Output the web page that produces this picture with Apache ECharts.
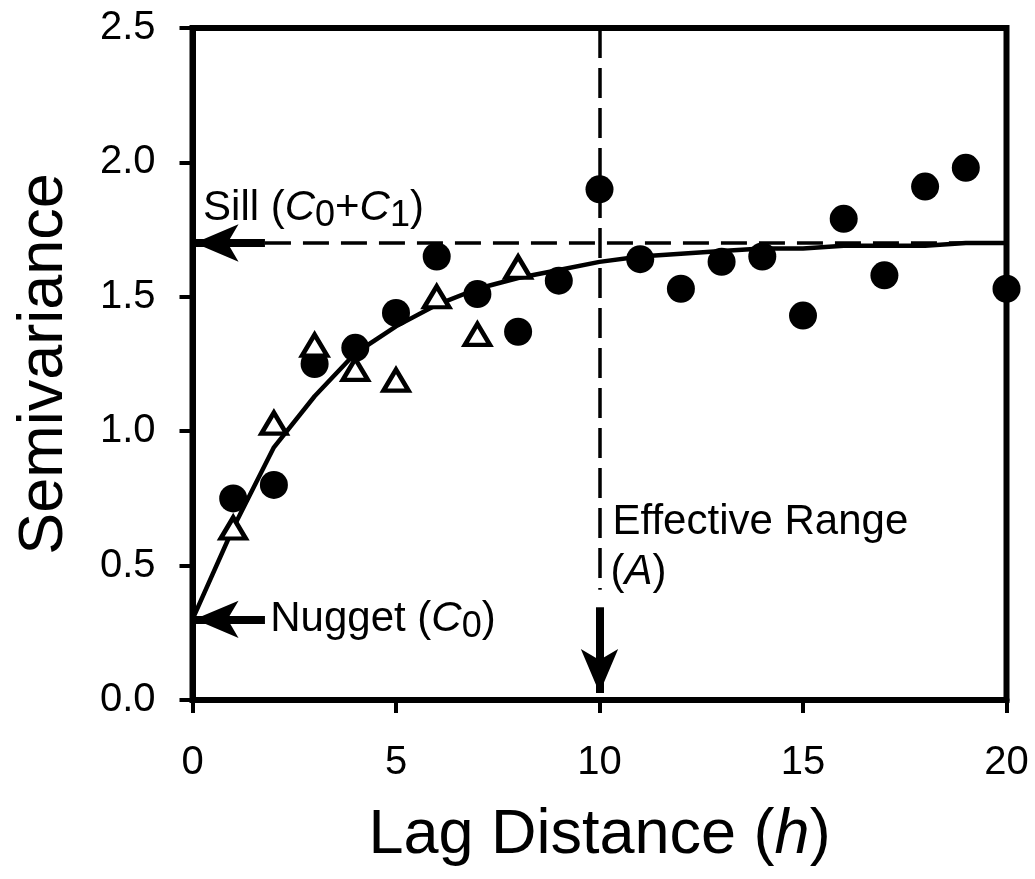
<!DOCTYPE html>
<html>
<head>
<meta charset="utf-8" />
<title>Semivariogram</title>
<script src="https://cdn.jsdelivr.net/npm/echarts@6.0.0/dist/echarts.min.js"></script>
<style>
  body { margin: 0; padding: 0; background: #fff; }
</style>
</head>
<body>
<div id="main" style="width:1035px;height:879px;"></div>
<script>
// observed semivariance (filled circles)
var lagDots = [1, 2, 3, 4, 5, 6, 7, 8, 9, 10, 11, 12, 13, 14, 15, 16, 17, 18, 19, 20];
var semivarDots = [0.75, 0.80, 1.25, 1.31, 1.44, 1.65, 1.51, 1.37, 1.56, 1.90,
                   1.64, 1.53, 1.63, 1.65, 1.43, 1.79, 1.58, 1.91, 1.98, 1.53];
// second set (open triangles)
var lagTri = [1, 2, 3, 4, 5, 6, 7, 8];
var semivarTri = [0.64, 1.03, 1.32, 1.23, 1.19, 1.50, 1.36, 1.61];
// fitted model curve
var lagModel = [0, 1, 2, 3, 4, 5, 6, 7, 8, 9, 10, 11, 12, 13, 14, 15, 16, 17, 18, 19, 20];
var semivarModel = [0.30, 0.64, 0.94, 1.13, 1.29, 1.39, 1.47, 1.53, 1.57, 1.60, 1.63,
                    1.65, 1.66, 1.67, 1.68, 1.68, 1.69, 1.69, 1.69, 1.70, 1.70];
var nugget = 0.3;
var sill = 1.7;
var effRange = 10;
var xTicks = [0, 5, 10, 15, 20];
var yTicks = [0, 0.5, 1.0, 1.5, 2.0, 2.5];

var FONT = "'Liberation Sans', Arial, Helvetica, sans-serif";

function pairs(xs, ys) {
  return xs.map(function (x, i) { return [x, ys[i]]; });
}

var chart = echarts.init(document.getElementById('main'), null, { renderer: 'canvas' });

chart.setOption({
  animation: false,
  backgroundColor: '#fff',
  grid: {
    left: 192.5, right: 28.5, top: 28, bottom: 179,
    show: true, borderColor: '#000', borderWidth: 6, backgroundColor: 'transparent'
  },
  xAxis: {
    type: 'value',
    min: xTicks[0], max: xTicks[xTicks.length - 1], interval: 5,
    name: 'Lag Distance ({i|h})',
    nameLocation: 'middle',
    nameGap: 104,
    nameMoveOverlap: false,
    nameTextStyle: {
      fontSize: 63, fontFamily: FONT, color: '#000',
      rich: { i: { fontSize: 63, fontFamily: FONT, fontStyle: 'italic', color: '#000' } }
    },
    axisLine: { show: true, lineStyle: { color: '#000', width: 6 } },
    axisTick: { show: true, inside: false, length: 13, lineStyle: { color: '#000', width: 4 } },
    axisLabel: { fontSize: 40, fontFamily: FONT, color: '#000', margin: 43 },
    splitLine: { show: false }
  },
  yAxis: {
    type: 'value',
    min: yTicks[0], max: yTicks[yTicks.length - 1], interval: 0.5,
    name: 'Semivariance',
    nameLocation: 'middle',
    nameGap: 116,
    nameMoveOverlap: false,
    nameTextStyle: { fontSize: 63, fontFamily: FONT, color: '#000' },
    axisLine: { show: true, lineStyle: { color: '#000', width: 6 } },
    axisTick: { show: true, inside: false, length: 13, lineStyle: { color: '#000', width: 4 } },
    axisLabel: {
      fontSize: 40, fontFamily: FONT, color: '#000', margin: 37,
      formatter: function (v) { return v.toFixed(1); }
    },
    splitLine: { show: false }
  },
  series: [
    {
      name: 'model',
      type: 'line',
      data: pairs(lagModel, semivarModel),
      showSymbol: false,
      smooth: false,
      lineStyle: { color: '#000', width: 4.5, opacity: 1, join: 'round' },
      z: 2,
      silent: true
    },
    {
      // sill, range dashed guides
      name: 'guides',
      type: 'line',
      data: [],
      silent: true,
      z: 1,
      markLine: {
        silent: true,
        animation: false,
        symbol: ['none', 'none'],
        label: { show: false },
        lineStyle: { color: '#000', width: 3.5, type: [26, 12], opacity: 1 },
        data: [
          [{ coord: [1.78, sill] }, { coord: [xTicks[4], sill] }],
          [{ coord: [effRange, yTicks[5]], lineStyle: { type: [30, 10] } },
           { coord: [effRange, 0.41] }]
        ]
      }
    },
    {
      name: 'arrows',
      type: 'line',
      data: [],
      silent: true,
      z: 3,
      markLine: {
        silent: true,
        animation: false,
        label: { show: false },
        symbol: ['none', 'arrow'],
        symbolSize: [28, 44],
        lineStyle: { color: '#000', width: 8, type: 'solid', opacity: 1 },
        data: [
          [{ coord: [1.78, sill] }, { coord: [0.05, sill] }],
          [{ coord: [1.78, nugget] }, { coord: [0.05, nugget] }],
          [{ coord: [effRange, 0.345] }, { coord: [effRange, 0.026] }]
        ]
      }
    },
    {
      name: 'observed',
      type: 'scatter',
      data: pairs(lagDots, semivarDots),
      symbol: 'circle',
      symbolSize: 28,
      itemStyle: { color: '#000', opacity: 1 },
      z: 4
    },
    {
      name: 'observed 2',
      type: 'scatter',
      data: pairs(lagTri, semivarTri),
      symbol: 'triangle',
      symbolSize: [25, 21],
      itemStyle: { color: '#fff', borderColor: '#000', borderWidth: 4.5, opacity: 1 },
      z: 5
    }
  ]
});

// annotation labels, anchored in data space
var rich = {
  n: { fontSize: 42, fontFamily: FONT, color: '#000', verticalAlign: 'middle' },
  i: { fontSize: 42, fontFamily: FONT, fontStyle: 'italic', color: '#000', verticalAlign: 'middle' },
  s: { fontSize: 36, fontFamily: FONT, color: '#000', verticalAlign: 'middle', padding: [15, 0, 0, 0] }
};

function label(at, text) {
  var p = chart.convertToPixel({ gridIndex: 0 }, at);
  return {
    type: 'text',
    x: p[0], y: p[1],
    z: 10,
    style: {
      text: text,
      rich: rich,
      fill: '#000',
      align: 'left', verticalAlign: 'middle',
      textAlign: 'left', textVerticalAlign: 'middle'
    }
  };
}

chart.setOption({
  graphic: [
    label([0.26, 1.83], '{n|Sill (}{i|C}{s|0}{n|+}{i|C}{s|1}{n|)}'),
    label([1.91, nugget], '{n|Nugget (}{i|C}{s|0}{n|)}'),
    label([10.32, 0.66], '{n|Effective Range}'),
    label([10.27, 0.475], '{n|(}{i|A}{n|)}')
  ]
});
</script>
</body>
</html>
